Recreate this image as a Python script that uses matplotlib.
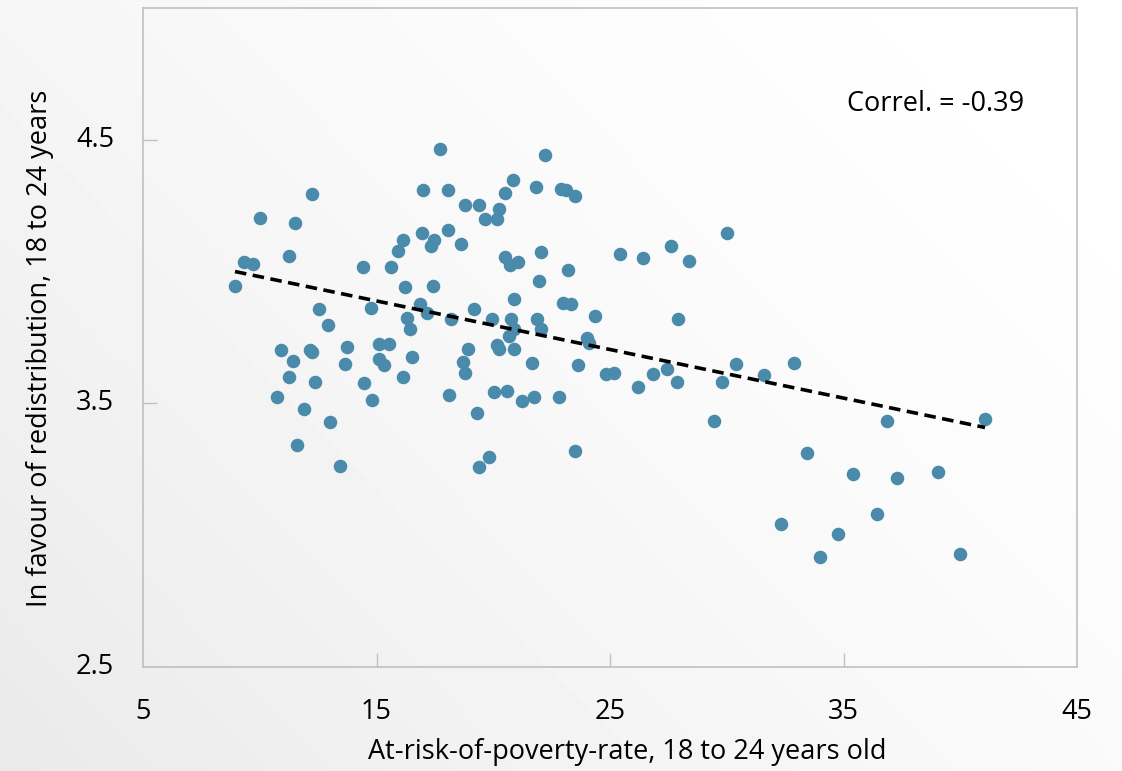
import numpy as np
import matplotlib
matplotlib.use('Agg')
import matplotlib.pyplot as plt

# At-risk-of-poverty rate (x) and support for redistribution (y), 18 to 24 years old
poverty_rate = [
    8.94, 9.32, 9.71, 10.0, 11.25, 11.5, 12.23, 10.73, 10.90, 11.25,
    11.42, 11.59, 11.89, 12.14, 12.23, 12.36, 12.53, 12.91, 13.0, 13.43,
    13.64, 13.73, 14.41, 14.45, 14.75, 14.80, 15.1, 15.1, 15.31, 15.52,
    15.61, 15.91, 16.12, 16.12, 16.21, 16.29, 16.42, 16.5, 16.85, 16.94,
    16.98, 17.15, 17.32, 17.45, 17.41, 17.71, 18.05, 18.05, 18.09, 18.18,
    18.60, 18.69, 18.78, 18.78, 18.90, 19.16, 19.29, 19.37, 19.37, 19.63,
    19.80, 19.93, 20.02, 20.14, 20.14, 20.23, 20.23, 20.49, 20.49, 20.61,
    20.66, 20.70, 20.74, 20.83, 20.91, 20.91, 20.87, 21.04, 21.21, 21.64,
    21.73, 21.81, 21.86, 21.98, 22.03, 22.03, 22.2, 22.80, 22.92, 22.97,
    23.10, 23.22, 23.31, 23.52, 23.52, 23.61, 24.0, 24.08, 24.34, 24.85,
    25.19, 25.41, 26.22, 26.43, 26.86, 27.42, 27.63, 27.85, 27.93, 28.40,
    29.47, 29.81, 30.03, 30.41, 31.61, 32.34, 32.89, 33.45, 34.0, 34.78,
    35.42, 36.44, 36.87, 37.30, 39.05, 39.99, 41.06,
]
redistribution = [
    3.946, 4.035, 4.027, 4.205, 4.061, 4.186, 4.296, 3.525, 3.702, 3.600,
    3.661, 3.343, 3.479, 3.702, 3.695, 3.581, 3.857, 3.797, 3.430, 3.264,
    3.649, 3.714, 4.016, 3.578, 3.861, 3.513, 3.725, 3.668, 3.646, 3.725,
    4.016, 4.077, 4.118, 3.600, 3.941, 3.823, 3.782, 3.676, 3.876, 4.145,
    4.311, 3.842, 4.096, 4.118, 3.944, 4.466, 4.311, 4.156, 3.532, 3.820,
    4.103, 3.657, 3.615, 4.254, 3.706, 3.857, 3.464, 3.260, 4.254, 4.201,
    3.298, 3.820, 3.543, 4.198, 3.721, 4.239, 3.706, 4.300, 4.054, 3.547,
    3.755, 4.024, 3.820, 4.349, 3.895, 3.706, 3.782, 4.035, 3.509, 3.653,
    3.525, 4.322, 3.820, 3.963, 4.073, 3.782, 4.443, 3.525, 4.315, 3.880,
    4.311, 4.005, 3.876, 4.288, 3.320, 3.646, 3.748, 3.729, 3.831, 3.612,
    3.615, 4.065, 3.562, 4.050, 3.612, 3.630, 4.096, 3.581, 3.820, 4.039,
    3.434, 3.581, 4.148, 3.649, 3.608, 3.041, 3.653, 3.313, 2.916, 3.003,
    3.233, 3.082, 3.434, 3.218, 3.241, 2.927, 3.441,
]
correl_label = 'Correl. = -0.39'

x_ticks = [15, 25, 35]
x_labels = [5, 15, 25, 35, 45]
y_ticks = [3.5, 4.5]
y_labels = [2.5, 3.5, 4.5]

plt.rcParams['font.family'] = ['Open Sans', 'DejaVu Sans']

fig = plt.figure(figsize=(11.22, 7.71), dpi=100)

# light diagonal gradient behind everything
bg = fig.add_axes([0, 0, 1, 1], zorder=-1)
gx, gy = np.meshgrid(np.linspace(0, 1, 300), np.linspace(0, 1, 200))
shade = np.clip(1 - (gx * 0.6 + (1 - gy) * 0.4), 0, 1)
grad = 1.0 - 0.085 * shade ** 1.6
bg.imshow(grad, cmap='gray', vmin=0, vmax=1, aspect='auto',
          extent=[0, 1, 0, 1], origin='upper')
bg.axis('off')

ax = fig.add_axes([143 / 1122, 1 - 667 / 771, 934 / 1122, 659 / 771])
ax.set_facecolor('none')

ax.scatter(poverty_rate, redistribution, s=95, color='#4a8aab', zorder=3, linewidths=0)

# linear trend
x = np.array(poverty_rate)
y = np.array(redistribution)
slope, intercept = np.polyfit(x, y, 1)
xl = np.array([x.min(), x.max()])
ax.plot(xl, slope * xl + intercept, color='black', linestyle=(0, (3.2, 1.8)),
        linewidth=2.6, zorder=4)

ax.set_xlim(5, 45)
ax.set_ylim(2.5, 5.0)

ax.set_xticks(x_ticks)
ax.set_xticklabels([])
ax.set_yticks(y_ticks)
ax.set_yticklabels([])
ax.tick_params(direction='in', length=10, width=1, color='#c0c0c0')

for v in x_labels:
    ax.annotate(str(v), xy=(v, 2.5), xycoords='data', xytext=(0, -45),
                textcoords='offset pixels', ha='center', va='center', fontsize=19.5)
for v in y_labels:
    ax.annotate(str(v), xy=(5, v), xycoords='data', xytext=(-48, 0),
                textcoords='offset pixels', ha='center', va='center', fontsize=19.5)

for sp in ax.spines.values():
    sp.set_color('#c0c0c0')
    sp.set_linewidth(1.2)

fig.text(627 / 1122, 1 - 752 / 771, 'At-risk-of-poverty-rate, 18 to 24 years old',
         ha='center', va='center', fontsize=19.5)
fig.text(40 / 1122, 1 - 348 / 771, 'In favour of redistribution, 18 to 24 years',
         ha='center', va='center', rotation=90, fontsize=19.5)

ax.text((936 - 143) / 934, (667 - 104) / 659, correl_label, transform=ax.transAxes,
        ha='center', va='center', fontsize=19.5)

fig.savefig('out.png', dpi=100)
